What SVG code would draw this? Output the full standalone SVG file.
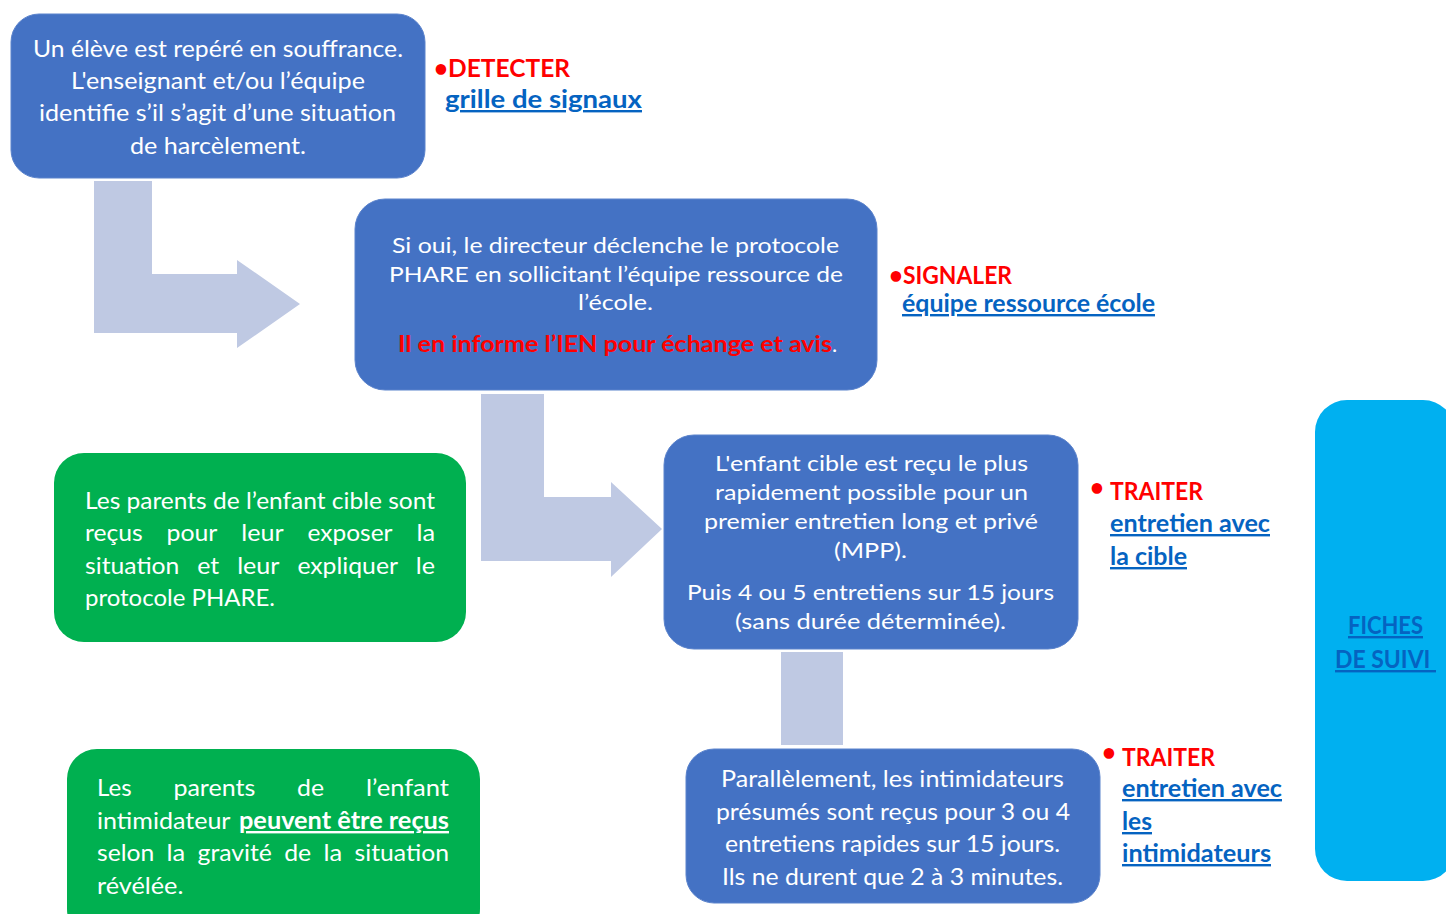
<svg xmlns="http://www.w3.org/2000/svg" width="1446" height="914" viewBox="0 0 1446 914">
<style>
.bx{fill:#4472C4;stroke:#5B83CC;stroke-width:1}
.gr{fill:#00B050}
.cy{fill:#00B0F0}
.conn{fill:#BFC9E3}
.t{font-family:Lato,"Liberation Sans",sans-serif;fill:#FFFFFF}
.t22{font-size:24px}
.t21{font-size:22px}
.lab{font-family:Lato,"Liberation Sans",sans-serif;font-weight:bold;font-size:24px}
.red{fill:#FF0000}
.lnk{fill:#0563C1;text-decoration:underline}
</style>
<g id="connectors">
<path class="conn" d="M94,181 H152 V274 H237 V260 L300,304 L237,348 V333 H94 Z"/>
<path class="conn" d="M481,394 H544 V497 H611 V482 L662,529 L611,577 V561 H481 Z"/>
<rect class="conn" x="781" y="652" width="62" height="93"/>
</g>
<g id="node-detect">
<rect class="bx" x="11" y="14" width="414" height="164" rx="28"/>
<text class="t t22" x="33" y="57" textLength="370" lengthAdjust="spacingAndGlyphs">Un élève est repéré en souffrance.</text>
<text class="t t22" x="71" y="89" textLength="294" lengthAdjust="spacingAndGlyphs">L'enseignant et/ou l’équipe</text>
<text class="t t22" x="39" y="121" textLength="357" lengthAdjust="spacingAndGlyphs">identifie s’il s’agit d’une situation</text>
<text class="t t22" x="130" y="154" textLength="176" lengthAdjust="spacingAndGlyphs">de harcèlement.</text>
</g>
<g id="label-detect">
<text class="lab red" x="434" y="77">•</text>
<text class="lab red" x="448" y="77" textLength="122" lengthAdjust="spacingAndGlyphs">DETECTER</text>
<text class="lab lnk" x="445" y="108" textLength="197" lengthAdjust="spacingAndGlyphs">grille de signaux</text>
</g>
<g id="node-signal">
<rect class="bx" x="355" y="199" width="522" height="191" rx="30"/>
<text class="t t21" x="392" y="253" textLength="447" lengthAdjust="spacingAndGlyphs">Si oui, le directeur déclenche le protocole</text>
<text class="t t21" x="389" y="282" textLength="454" lengthAdjust="spacingAndGlyphs">PHARE en sollicitant l’équipe ressource de</text>
<text class="t t21" x="578" y="310" textLength="75" lengthAdjust="spacingAndGlyphs">l’école.</text>
<text class="t t21 red" x="398" y="352" font-weight="bold" textLength="434" lengthAdjust="spacingAndGlyphs">Il en informe l’IEN pour échange et avis</text>
<text class="t t21" x="832" y="352">.</text>
</g>
<g id="label-signal">
<text class="lab red" x="889" y="284">•</text>
<text class="lab red" x="903" y="284" textLength="109" lengthAdjust="spacingAndGlyphs">SIGNALER</text>
<text class="lab lnk" x="902" y="312" textLength="253" lengthAdjust="spacingAndGlyphs">équipe ressource école</text>
</g>
<g id="node-cible">
<rect class="bx" x="664" y="435" width="414" height="214" rx="30"/>
<text class="t t21" x="715" y="471" textLength="313" lengthAdjust="spacingAndGlyphs">L'enfant cible est reçu le plus</text>
<text class="t t21" x="715" y="500" textLength="313" lengthAdjust="spacingAndGlyphs">rapidement possible pour un</text>
<text class="t t21" x="704" y="529" textLength="334" lengthAdjust="spacingAndGlyphs">premier entretien long et privé</text>
<text class="t t21" x="834" y="558" textLength="73" lengthAdjust="spacingAndGlyphs">(MPP).</text>
<text class="t t21" x="687" y="600" textLength="367" lengthAdjust="spacingAndGlyphs">Puis 4 ou 5 entretiens sur 15 jours</text>
<text class="t t21" x="735" y="629" textLength="271" lengthAdjust="spacingAndGlyphs">(sans durée déterminée).</text>
</g>
<g id="label-traiter-cible">
<text class="lab red" x="1090" y="496">•</text>
<text class="lab red" x="1110" y="500" textLength="93" lengthAdjust="spacingAndGlyphs">TRAITER</text>
<text class="lab lnk" x="1110" y="532" textLength="160" lengthAdjust="spacingAndGlyphs">entretien avec</text>
<text class="lab lnk" x="1110" y="565" textLength="77" lengthAdjust="spacingAndGlyphs">la cible</text>
</g>
<g id="node-intimidateurs">
<rect class="bx" x="686" y="749" width="414" height="154" rx="28"/>
<text class="t t22" x="721" y="787" textLength="343" lengthAdjust="spacingAndGlyphs">Parallèlement, les intimidateurs</text>
<text class="t t22" x="716" y="820" textLength="354" lengthAdjust="spacingAndGlyphs">présumés sont reçus pour 3 ou 4</text>
<text class="t t22" x="725" y="852" textLength="335" lengthAdjust="spacingAndGlyphs">entretiens rapides sur 15 jours.</text>
<text class="t t22" x="722" y="885" textLength="341" lengthAdjust="spacingAndGlyphs">Ils ne durent que 2 à 3 minutes.</text>
</g>
<g id="label-traiter-intimidateurs">
<text class="lab red" x="1102" y="761">•</text>
<text class="lab red" x="1122" y="766" textLength="93" lengthAdjust="spacingAndGlyphs">TRAITER</text>
<text class="lab lnk" x="1122" y="797" textLength="160" lengthAdjust="spacingAndGlyphs">entretien avec</text>
<text class="lab lnk" x="1122" y="830" textLength="30" lengthAdjust="spacingAndGlyphs">les</text>
<text class="lab lnk" x="1122" y="862" textLength="149" lengthAdjust="spacingAndGlyphs">intimidateurs</text>
</g>
<g id="node-parents-cible">
<rect class="gr" x="54" y="453" width="412" height="189" rx="30"/>
<text class="t t22" x="85" y="509" textLength="350" lengthAdjust="spacingAndGlyphs">Les parents de l’enfant cible sont</text>
<text class="t t22" x="85" y="541" textLength="57.7" lengthAdjust="spacingAndGlyphs">reçus</text>
<text class="t t22" x="166.6" y="541" textLength="50.8" lengthAdjust="spacingAndGlyphs">pour</text>
<text class="t t22" x="241.3" y="541" textLength="42.3" lengthAdjust="spacingAndGlyphs">leur</text>
<text class="t t22" x="307.5" y="541" textLength="85" lengthAdjust="spacingAndGlyphs">exposer</text>
<text class="t t22" x="416.4" y="541" textLength="18.6" lengthAdjust="spacingAndGlyphs">la</text>
<text class="t t22" x="85" y="574" textLength="94.4" lengthAdjust="spacingAndGlyphs">situation</text>
<text class="t t22" x="197.3" y="574" textLength="22" lengthAdjust="spacingAndGlyphs">et</text>
<text class="t t22" x="237.2" y="574" textLength="42.3" lengthAdjust="spacingAndGlyphs">leur</text>
<text class="t t22" x="297.4" y="574" textLength="100.6" lengthAdjust="spacingAndGlyphs">expliquer</text>
<text class="t t22" x="415.8" y="574" textLength="19.2" lengthAdjust="spacingAndGlyphs">le</text>
<text class="t t22" x="85" y="606" textLength="190" lengthAdjust="spacingAndGlyphs">protocole PHARE.</text>
</g>
<g id="node-parents-intimidateur">
<rect class="gr" x="67" y="749" width="413" height="190" rx="30"/>
<text class="t t22" x="97" y="796" textLength="34.6" lengthAdjust="spacingAndGlyphs">Les</text>
<text class="t t22" x="173.4" y="796" textLength="81.9" lengthAdjust="spacingAndGlyphs">parents</text>
<text class="t t22" x="297.1" y="796" textLength="27" lengthAdjust="spacingAndGlyphs">de</text>
<text class="t t22" x="366" y="796" textLength="83" lengthAdjust="spacingAndGlyphs">l’enfant</text>
<text class="t t22" x="97" y="829" textLength="133.5" lengthAdjust="spacingAndGlyphs">intimidateur</text>
<text class="t t22" x="239" y="829" font-weight="bold" text-decoration="underline" textLength="210" lengthAdjust="spacingAndGlyphs">peuvent être reçus</text>
<text class="t t22" x="97" y="861" textLength="57.3" lengthAdjust="spacingAndGlyphs">selon</text>
<text class="t t22" x="166.6" y="861" textLength="18.7" lengthAdjust="spacingAndGlyphs">la</text>
<text class="t t22" x="197.6" y="861" textLength="74.3" lengthAdjust="spacingAndGlyphs">gravité</text>
<text class="t t22" x="284.2" y="861" textLength="27" lengthAdjust="spacingAndGlyphs">de</text>
<text class="t t22" x="323.5" y="861" textLength="18.7" lengthAdjust="spacingAndGlyphs">la</text>
<text class="t t22" x="354.6" y="861" textLength="94.4" lengthAdjust="spacingAndGlyphs">situation</text>
<text class="t t22" x="97" y="894" textLength="86.4" lengthAdjust="spacingAndGlyphs">révélée.</text>
</g>
<g id="node-fiches">
<rect class="cy" x="1315" y="400" width="140" height="481" rx="32"/>
<text class="lab lnk" x="1348" y="634" textLength="75" lengthAdjust="spacingAndGlyphs">FICHES</text>
<text class="lab lnk" x="1335" y="668" xml:space="preserve" textLength="101" lengthAdjust="spacingAndGlyphs">DE SUIVI </text>
</g>
</svg>
